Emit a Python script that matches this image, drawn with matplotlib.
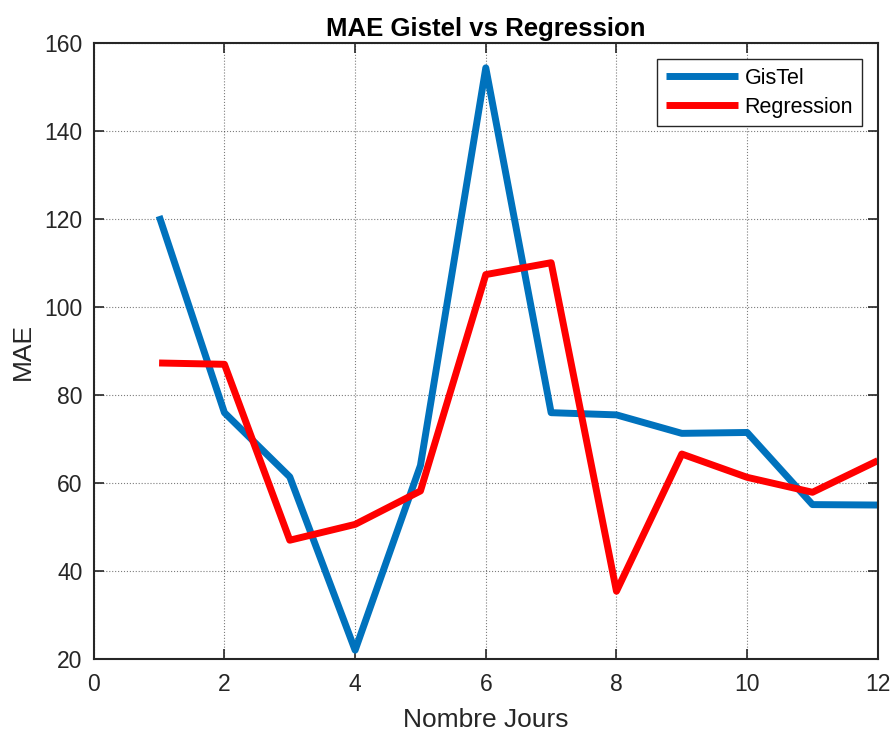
import matplotlib
matplotlib.use('Agg')
import matplotlib.pyplot as plt

plt.rcParams['font.family'] = ['Liberation Sans', 'DejaVu Sans']

# MAE per number of days
jours = [1, 2, 3, 4, 5, 6, 7, 8, 9, 10, 11, 12]
gistel = [120.7, 76.0, 61.4, 22.0, 64.0, 154.4, 76.0, 75.5, 71.3, 71.5, 55.1, 55.0]
regression = [87.3, 87.0, 47.0, 50.6, 58.2, 107.4, 110.1, 35.4, 66.6, 61.3, 57.9, 65.1]

fig = plt.figure(figsize=(8.93, 7.33), dpi=100)
ax = fig.add_axes([0.105, 0.101, 0.878, 0.840])

line_kw = dict(linewidth=5, solid_capstyle='butt', solid_joinstyle='round')
ax.plot(jours, gistel, color='#0072BD', label='GisTel', **line_kw)
ax.plot(jours, regression, color='#FF0000', label='Regression', **line_kw)

ax.set_xlim(0, 12)
ax.set_ylim(20, 160)
ax.set_xticks(range(0, 13, 2))
ax.set_yticks(range(20, 161, 20))

ax.grid(True, linestyle=':', color='#262626', linewidth=0.8, alpha=0.6)
ax.tick_params(direction='in', length=7, width=1.2, labelsize=16.5, colors='#262626',
               top=True, right=True)
ax.tick_params(axis='y', pad=8)
ax.tick_params(axis='x', pad=10)
for s in ax.spines.values():
    s.set_linewidth(1.5)
    s.set_color('#262626')

ax.set_title('MAE Gistel vs Regression', fontsize=18.5, fontweight='bold', pad=5)
ax.set_xlabel('Nombre Jours', fontsize=19, color='#262626', labelpad=9)
ax.set_ylabel('MAE', fontsize=19, color='#262626', labelpad=7)

leg = ax.legend(loc='upper right', fontsize=15.5, fancybox=False, framealpha=1,
                edgecolor='#262626', handlelength=3.35, handletextpad=0.3,
                labelspacing=0.35, borderpad=0.4, borderaxespad=0.75)
leg.get_frame().set_linewidth(1.0)

fig.savefig('out.png', dpi=100)
